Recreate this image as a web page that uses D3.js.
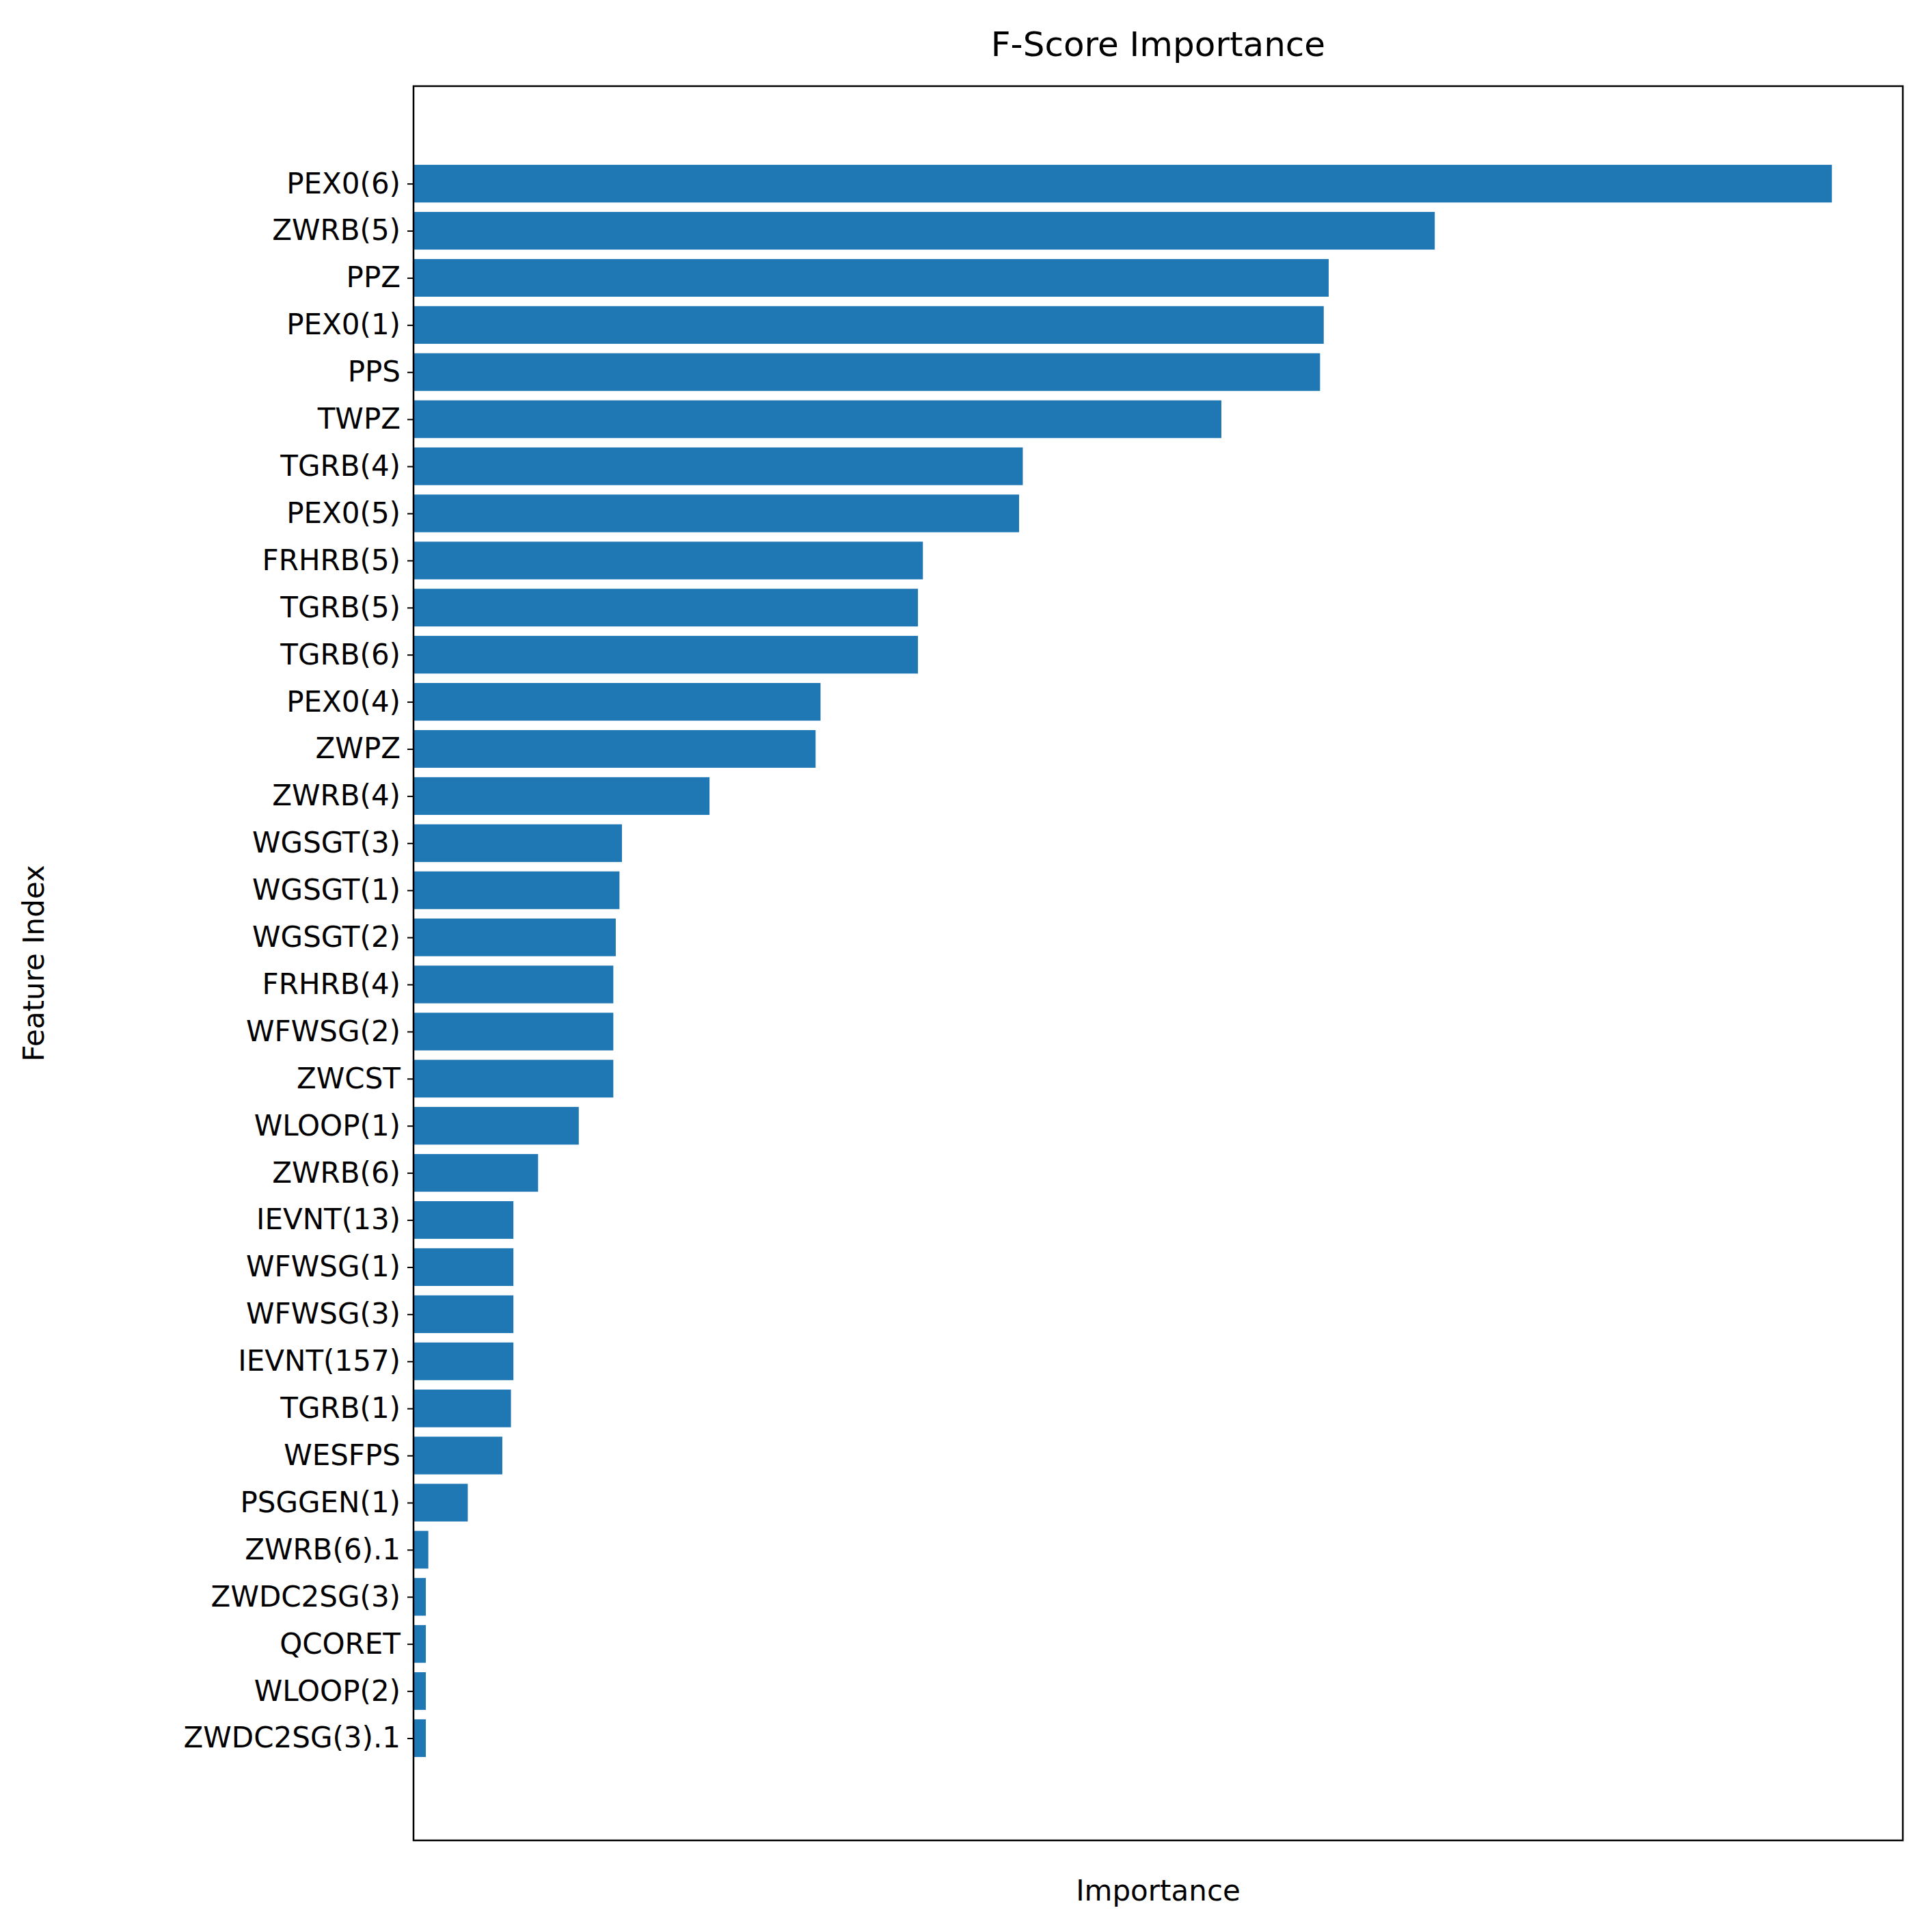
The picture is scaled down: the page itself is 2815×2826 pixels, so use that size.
<!DOCTYPE html>
<html><head><meta charset="utf-8">
<script src="https://cdn.jsdelivr.net/npm/d3@7"></script>
<style>body{margin:0;background:#fff}</style></head>
<body><svg id="c" width="2815" height="2826"></svg>
<script>
const features = ["PEX0(6)","ZWRB(5)","PPZ","PEX0(1)","PPS","TWPZ","TGRB(4)","PEX0(5)","FRHRB(5)","TGRB(5)","TGRB(6)","PEX0(4)","ZWPZ","ZWRB(4)","WGSGT(3)","WGSGT(1)","WGSGT(2)","FRHRB(4)","WFWSG(2)","ZWCST","WLOOP(1)","ZWRB(6)","IEVNT(13)","WFWSG(1)","WFWSG(3)","IEVNT(157)","TGRB(1)","WESFPS","PSGGEN(1)","ZWRB(6).1","ZWDC2SG(3)","QCORET","WLOOP(2)","ZWDC2SG(3).1"];
const importance = [1150,828,742,738,735,655,494,491,413,409,409,330,326,240,169,167,164,162,162,162,134,101,81,81,81,81,79,72,44,12,10,10,10,10];

const svg = d3.select("#c");
const L=605, R=2784, T=126, B=2692;
const x = d3.scaleLinear().domain([0, d3.max(importance)*1.05]).range([L,R]);
const n = features.length;
const y = d3.scaleLinear().domain([-2.07, n-1+2.17]).range([T,B]);
const bh = (y(0.8)-y(0));
const font = "DejaVu Sans, sans-serif";

svg.selectAll("rect.bar").data(importance).join("rect")
  .attr("x", x(0)).attr("y", (d,i)=>y(i)-bh/2)
  .attr("width", d=>x(d)-x(0)).attr("height", bh).attr("fill","#1f77b4");

const yAxis = d3.axisLeft(y).tickValues(d3.range(n)).tickFormat(i=>features[i]).tickSize(9).tickPadding(10);
const g = svg.append("g").attr("transform",`translate(${L},0)`).call(yAxis);
g.select(".domain").remove();
g.selectAll("text").attr("font-family",font).attr("font-size",42).attr("fill","#000");
g.selectAll("line").attr("stroke","#000").attr("stroke-width",2);

svg.append("rect").attr("x",L).attr("y",T).attr("width",R-L).attr("height",B-T)
  .attr("fill","none").attr("stroke","#000").attr("stroke-width",2.5);

svg.append("text").attr("x",(L+R)/2).attr("y",82).attr("text-anchor","middle")
  .attr("font-family",font).attr("font-size",50).text("F-Score Importance");
svg.append("text").attr("x",(L+R)/2).attr("y",2780).attr("text-anchor","middle")
  .attr("font-family",font).attr("font-size",42).text("Importance");
svg.append("text").attr("transform",`translate(64,${(T+B)/2}) rotate(-90)`).attr("text-anchor","middle")
  .attr("font-family",font).attr("font-size",42).text("Feature Index");
</script></body></html>
